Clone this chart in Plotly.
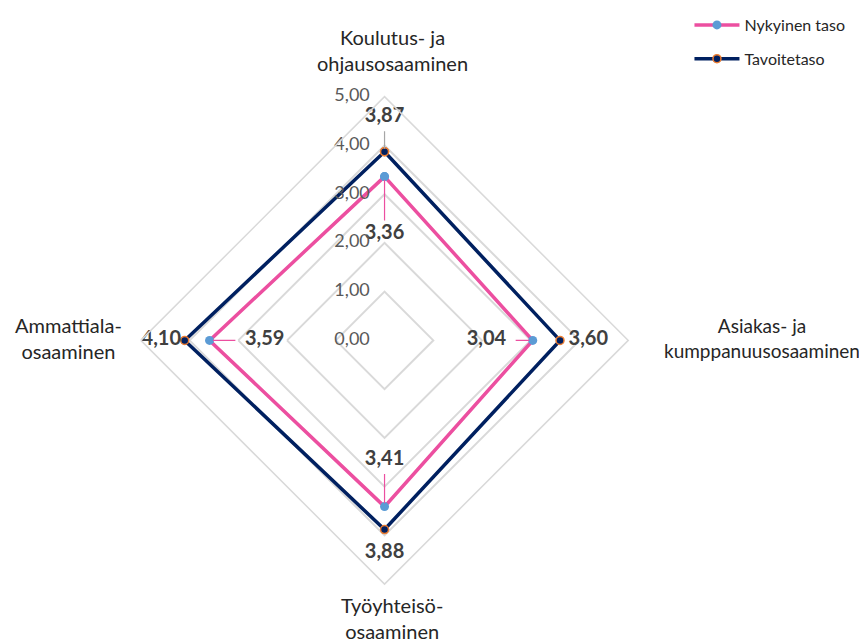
import plotly.graph_objects as go

# categories clockwise from the top
categories = ["Koulutus- ja ohjausosaaminen", "Asiakas- ja kumppanuusosaaminen",
              "Työyhteisö-osaaminen", "Ammattiala-osaaminen"]
category_labels = ["Koulutus- ja<br>ohjausosaaminen", "Asiakas- ja<br>kumppanuusosaaminen",
                   "Työyhteisö-<br>osaaminen", "Ammattiala-<br>osaaminen"]
current_values = [3.36, 3.04, 3.41, 3.59]
target_values = [3.87, 3.60, 3.88, 4.10]
series_names = ["Nykyinen taso", "Tavoitetaso"]
tick_values = [0, 1, 2, 3, 4, 5]

PINK = "#EC4FA0"
NAVY = "#002060"
BLUE = "#5B9BD5"
ORANGE = "#ED7D31"
TEXT = "#404040"
FONT = "Lato"


def fmt(v):
    return f"{v:.2f}".replace(".", ",")


# label radius offsets (current labels inside, target labels outside)
cur_label_r = [v - 1.18 for v in current_values]
cur_label_r[1] = current_values[1] - 0.95
cur_label_r[2] = current_values[2] - 0.95
cur_label_r[3] = current_values[3] - 1.13
tgt_label_r = [v + 0.72 for v in target_values]
tgt_label_r[1] = target_values[1] + 0.58
tgt_label_r[2] = target_values[2] + 0.48
tgt_label_r[3] = target_values[3] + 0.48

fig = go.Figure()

closed = categories + categories[:1]

fig.add_trace(go.Scatterpolar(
    r=current_values + current_values[:1], theta=closed, name=series_names[0],
    mode="lines+markers", legendgroup="a",
    line=dict(color=PINK, width=3.5),
    marker=dict(color=BLUE, size=9, line=dict(width=0)),
    hoverinfo="skip"))
fig.add_trace(go.Scatterpolar(
    r=target_values + target_values[:1], theta=closed, name=series_names[1],
    mode="lines+markers", legendgroup="b",
    line=dict(color=NAVY, width=3.5),
    marker=dict(color=NAVY, size=8, line=dict(color=ORANGE, width=1.5)),
    hoverinfo="skip"))

# leader lines from current labels to points
for i, cat in enumerate(categories):
    start = cur_label_r[i] + (0.28 if i in (0, 2) else 0.6)
    fig.add_trace(go.Scatterpolar(
        r=[start, current_values[i] - 0.07], theta=[cat, cat], mode="lines",
        line=dict(color=PINK, width=1.2), showlegend=False, hoverinfo="skip"))
# leader for top target label
fig.add_trace(go.Scatterpolar(
    r=[tgt_label_r[0] - 0.3, target_values[0] + 0.06], theta=[categories[0]] * 2, mode="lines",
    line=dict(color="#A6A6A6", width=1.2), showlegend=False, hoverinfo="skip"))

fig.add_trace(go.Scatterpolar(
    r=cur_label_r, theta=categories, mode="text",
    text=[f"<b>{fmt(v)}</b>" for v in current_values],
    textfont=dict(family=FONT, size=20, color=TEXT),
    showlegend=False, hoverinfo="skip"))
fig.add_trace(go.Scatterpolar(
    r=tgt_label_r, theta=categories, mode="text",
    text=[f"<b>{fmt(v)}</b>" for v in target_values],
    textfont=dict(family=FONT, size=20, color=TEXT),
    showlegend=False, hoverinfo="skip"))

# radial tick labels, left of the vertical axis (invisible markers keep a gap)
fig.add_trace(go.Scatterpolar(
    r=[max(v, 1e-6) for v in tick_values], theta=[categories[0]] * len(tick_values),
    mode="markers+text", text=[fmt(v) for v in tick_values], textposition="middle left",
    marker=dict(size=22, color="rgba(0,0,0,0)"),
    textfont=dict(family=FONT, size=18, color="#595959"),
    cliponaxis=False, showlegend=False, hoverinfo="skip"))

cat_font = dict(family=FONT, size=20, color="#262626")

fig.update_layout(
    width=867, height=644,
    margin=dict(l=0, r=0, t=0, b=0),
    paper_bgcolor="white",
    font=dict(family=FONT, size=16, color=TEXT),
    polar=dict(
        domain=dict(x=[0.1506, 0.7180], y=[0.1064, 0.8704]),
        bgcolor="white",
        gridshape="linear",
        angularaxis=dict(
            rotation=90, direction="clockwise",
            showticklabels=False, ticks="",
            showgrid=False,
            showline=True, linecolor="#D9D9D9", linewidth=1.5),
        radialaxis=dict(
            range=[0, 5], tickvals=tick_values,
            showticklabels=False, angle=90,
            showline=False, ticks="",
            gridcolor="#D9D9D9", gridwidth=1.5),
    ),
    legend=dict(x=0.786, y=1.01, xanchor="left", yanchor="top",
                font=dict(family=FONT, size=16, color="#262626"),
                itemwidth=45, tracegroupgap=10, bgcolor="rgba(0,0,0,0)"),
    annotations=[
        dict(x=0.444, y=0.943, text=category_labels[0], showarrow=False,
             xref="paper", yref="paper", xanchor="center", yanchor="middle", font=cat_font),
        dict(x=0.985, y=0.492, text=category_labels[1], showarrow=False,
             xref="paper", yref="paper", xanchor="right", yanchor="middle",
             font=dict(family=FONT, size=19, color="#262626")),
        dict(x=0.443, y=0.054, text=category_labels[2], showarrow=False,
             xref="paper", yref="paper", xanchor="center", yanchor="middle", font=cat_font),
        dict(x=0.070, y=0.492, text=category_labels[3], showarrow=False,
             xref="paper", yref="paper", xanchor="center", yanchor="middle", font=cat_font),
    ],
)

fig.write_html("out.html")
